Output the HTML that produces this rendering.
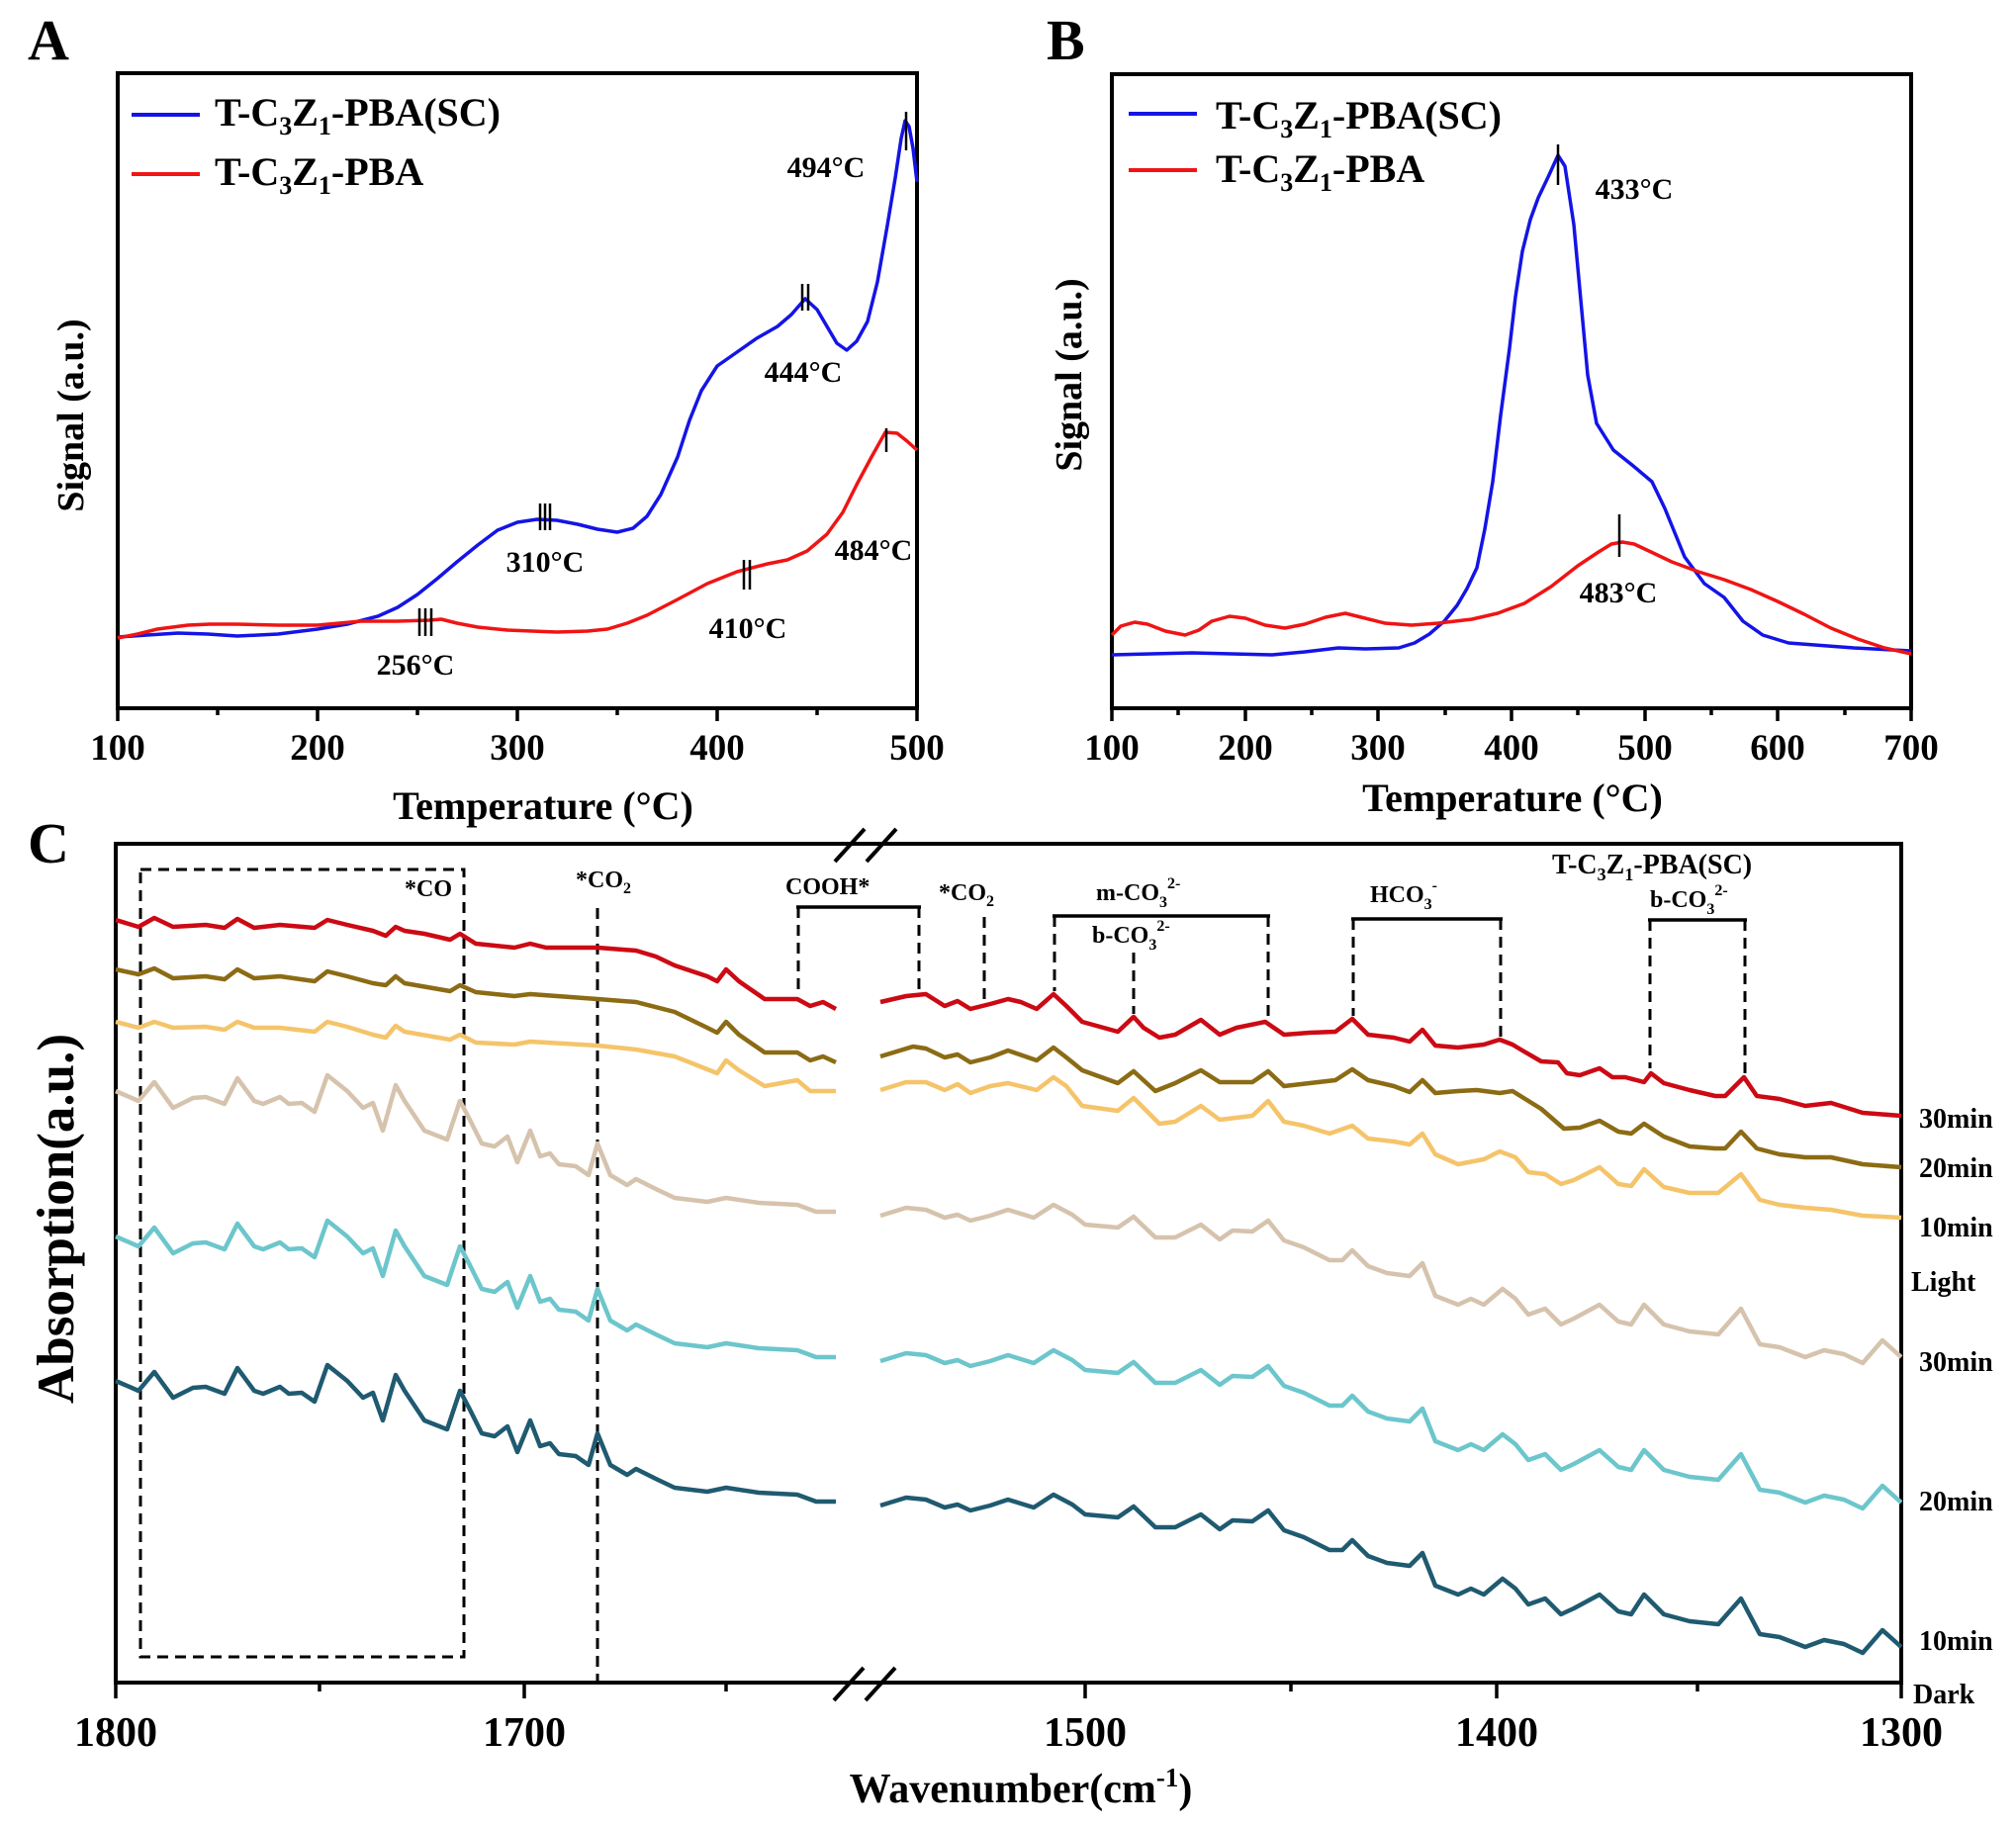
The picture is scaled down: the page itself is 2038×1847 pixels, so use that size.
<!DOCTYPE html>
<html>
<head>
<meta charset="utf-8">
<style>
html,body{margin:0;padding:0;background:#fff}
svg{display:block}
text{font-family:"Liberation Serif","DejaVu Serif",serif;font-weight:bold;fill:#000}
</style>
</head>
<body>
<svg width="2038" height="1847" viewBox="0 0 2038 1847" xmlns="http://www.w3.org/2000/svg">
<rect x="0" y="0" width="2038" height="1847" fill="#fff"/>

<!-- ================= PANEL A ================= -->
<text x="28" y="60" font-size="58">A</text>
<rect x="119" y="74" width="808" height="642" fill="none" stroke="#000" stroke-width="4"/>
<g stroke="#000" stroke-width="3.5">
<line x1="119" y1="716" x2="119" y2="729"/><line x1="321" y1="716" x2="321" y2="729"/><line x1="523" y1="716" x2="523" y2="729"/><line x1="725" y1="716" x2="725" y2="729"/><line x1="927" y1="716" x2="927" y2="729"/>
<line x1="220" y1="716" x2="220" y2="723"/><line x1="422" y1="716" x2="422" y2="723"/><line x1="624" y1="716" x2="624" y2="723"/><line x1="826" y1="716" x2="826" y2="723"/>
</g>
<g font-size="37" text-anchor="middle">
<text x="119" y="768">100</text><text x="321" y="768">200</text><text x="523" y="768">300</text><text x="725" y="768">400</text><text x="927" y="768">500</text>
</g>
<text x="549" y="828" font-size="40" text-anchor="middle">Temperature (°C)</text>
<text transform="translate(84,420) rotate(-90)" font-size="38" text-anchor="middle">Signal (a.u.)</text>

<line x1="133" y1="116" x2="202" y2="116" stroke="#1414e6" stroke-width="4"/>
<text x="217" y="127" font-size="40">T-C<tspan font-size="26" dy="9">3</tspan><tspan dy="-9">Z</tspan><tspan font-size="26" dy="9">1</tspan><tspan dy="-9">-PBA(SC)</tspan></text>
<line x1="133" y1="176" x2="202" y2="176" stroke="#f01414" stroke-width="4"/>
<text x="217" y="187" font-size="40">T-C<tspan font-size="26" dy="9">3</tspan><tspan dy="-9">Z</tspan><tspan font-size="26" dy="9">1</tspan><tspan dy="-9">-PBA</tspan></text>

<polyline fill="none" stroke="#1414e6" stroke-width="3.5" stroke-linejoin="round" points="119,644 149,642 180,640 210,641 240,643 281,641 321,636 351,631 382,623 402,614 422,601 442,585 462,568 483,551 503,536 523,528 543,525 563,526 584,530 604,535 624,538 640,534 654,522 668,500 685,462 697,425 709,395 725,370 745,356 765,342 786,330 800,318 814,302 826,313 836,330 846,347 856,354 866,345 877,325 887,285 897,228 905,180 911,140 915,122 919,128 923,150 927,184"/>
<polyline fill="none" stroke="#f01414" stroke-width="3.5" stroke-linejoin="round" points="119,645 139,641 159,636 190,632 212,631 240,631 281,632 321,632 365,628 402,628 434,627 446,626 462,630 483,634 513,637 563,639 594,638 614,636 634,630 654,622 685,606 715,590 745,578 776,570 796,566 816,557 836,540 852,518 866,490 881,462 895,437 907,438 917,446 927,455"/>

<g stroke="#000" stroke-width="2.5">
<line x1="916" y1="113" x2="916" y2="152"/>
<line x1="811" y1="287" x2="811" y2="314"/><line x1="817" y1="287" x2="817" y2="314"/>
<line x1="546" y1="509" x2="546" y2="536"/><line x1="551" y1="509" x2="551" y2="536"/><line x1="556" y1="509" x2="556" y2="536"/>
<line x1="424" y1="615" x2="424" y2="643"/><line x1="430" y1="615" x2="430" y2="643"/><line x1="436" y1="615" x2="436" y2="643"/>
<line x1="752" y1="566" x2="752" y2="596"/><line x1="758" y1="566" x2="758" y2="596"/>
<line x1="896" y1="433" x2="896" y2="457"/>
</g>
<g font-size="30" text-anchor="middle">
<text x="835" y="179">494°C</text>
<text x="812" y="386">444°C</text>
<text x="551" y="578">310°C</text>
<text x="883" y="566">484°C</text>
<text x="756" y="645">410°C</text>
<text x="420" y="682">256°C</text>
</g>

<!-- ================= PANEL B ================= -->
<text x="1058" y="60" font-size="58">B</text>
<rect x="1124" y="75" width="808" height="641" fill="none" stroke="#000" stroke-width="4"/>
<g stroke="#000" stroke-width="3.5">
<line x1="1124" y1="716" x2="1124" y2="729"/><line x1="1259" y1="716" x2="1259" y2="729"/><line x1="1393" y1="716" x2="1393" y2="729"/><line x1="1528" y1="716" x2="1528" y2="729"/><line x1="1663" y1="716" x2="1663" y2="729"/><line x1="1797" y1="716" x2="1797" y2="729"/><line x1="1932" y1="716" x2="1932" y2="729"/>
<line x1="1191" y1="716" x2="1191" y2="723"/><line x1="1326" y1="716" x2="1326" y2="723"/><line x1="1461" y1="716" x2="1461" y2="723"/><line x1="1595" y1="716" x2="1595" y2="723"/><line x1="1730" y1="716" x2="1730" y2="723"/><line x1="1865" y1="716" x2="1865" y2="723"/>
</g>
<g font-size="37" text-anchor="middle">
<text x="1124" y="768">100</text><text x="1259" y="768">200</text><text x="1393" y="768">300</text><text x="1528" y="768">400</text><text x="1663" y="768">500</text><text x="1797" y="768">600</text><text x="1932" y="768">700</text>
</g>
<text x="1529" y="820" font-size="40" text-anchor="middle">Temperature (°C)</text>
<text transform="translate(1093,379) rotate(-90)" font-size="38" text-anchor="middle">Signal (a.u.)</text>

<line x1="1141" y1="115" x2="1210" y2="115" stroke="#1414e6" stroke-width="4"/>
<text x="1229" y="130" font-size="40">T-C<tspan font-size="26" dy="9">3</tspan><tspan dy="-9">Z</tspan><tspan font-size="26" dy="9">1</tspan><tspan dy="-9">-PBA(SC)</tspan></text>
<line x1="1141" y1="172" x2="1210" y2="172" stroke="#f01414" stroke-width="4"/>
<text x="1229" y="184" font-size="40">T-C<tspan font-size="26" dy="9">3</tspan><tspan dy="-9">Z</tspan><tspan font-size="26" dy="9">1</tspan><tspan dy="-9">-PBA</tspan></text>

<polyline fill="none" stroke="#1414e6" stroke-width="3.5" stroke-linejoin="round" points="1124,662 1164,661 1205,660 1245,661 1286,662 1319,659 1353,655 1380,656 1414,655 1430,650 1445,641 1460,628 1473,612 1483,595 1493,574 1501,535 1509,487 1517,420 1526,352 1532,300 1539,254 1547,222 1555,200 1565,179 1575,157 1582,168 1591,227 1598,303 1605,379 1614,428 1631,455 1651,471 1670,487 1683,514 1703,563 1723,590 1743,604 1762,628 1782,642 1808,650 1874,655 1932,658"/>
<polyline fill="none" stroke="#f01414" stroke-width="3.5" stroke-linejoin="round" points="1124,642 1133,633 1147,629 1160,631 1178,638 1198,642 1212,637 1225,628 1243,623 1259,625 1279,632 1299,635 1319,631 1340,624 1360,620 1380,625 1400,630 1427,632 1454,630 1488,626 1514,620 1541,610 1568,593 1595,572 1616,558 1629,550 1640,548 1652,550 1669,558 1690,568 1717,578 1743,586 1770,596 1797,608 1824,621 1851,635 1878,646 1905,655 1932,661"/>

<g stroke="#000" stroke-width="2.5">
<line x1="1575" y1="146" x2="1575" y2="187"/>
<line x1="1637" y1="520" x2="1637" y2="563"/>
</g>
<g font-size="30" text-anchor="middle">
<text x="1652" y="201">433°C</text>
<text x="1636" y="609">483°C</text>
</g>

<!-- ================= PANEL C ================= -->
<text x="28" y="872" font-size="58">C</text>
<rect x="117" y="853" width="1805" height="848" fill="none" stroke="#000" stroke-width="4"/>
<g stroke="#000" stroke-width="3.5">
<line x1="117" y1="1701" x2="117" y2="1717"/><line x1="530" y1="1701" x2="530" y2="1717"/><line x1="1097" y1="1701" x2="1097" y2="1717"/><line x1="1513" y1="1701" x2="1513" y2="1717"/><line x1="1922" y1="1701" x2="1922" y2="1717"/>
<line x1="323" y1="1701" x2="323" y2="1710"/><line x1="734" y1="1701" x2="734" y2="1710"/><line x1="1305" y1="1701" x2="1305" y2="1710"/><line x1="1716" y1="1701" x2="1716" y2="1710"/>
</g>
<!-- break marks -->
<g stroke="#000" stroke-width="4">
<line x1="844" y1="871" x2="874" y2="838"/><line x1="876" y1="871" x2="906" y2="838"/>
<line x1="843" y1="1719" x2="873" y2="1686"/><line x1="875" y1="1719" x2="905" y2="1686"/>
</g>
<g font-size="42" text-anchor="middle">
<text x="117" y="1765">1800</text><text x="530" y="1765">1700</text><text x="1097" y="1765">1500</text><text x="1513" y="1765">1400</text><text x="1922" y="1765">1300</text>
</g>
<text x="1032" y="1822" font-size="42" text-anchor="middle">Wavenumber(cm<tspan font-size="27" dy="-16">-1</tspan><tspan dy="16">)</tspan></text>
<text transform="translate(74,1232) rotate(-90)" font-size="53" text-anchor="middle">Absorption(a.u.)</text>

<!-- dashed annotation lines -->
<g fill="none" stroke="#000" stroke-width="3" stroke-dasharray="11,7">
<rect x="142" y="879" width="327" height="796"/>
<line x1="604" y1="918" x2="604" y2="1701"/>
<line x1="807" y1="917" x2="807" y2="1003"/><line x1="929" y1="917" x2="929" y2="1001"/>
<line x1="995" y1="927" x2="995" y2="1010"/>
<line x1="1066" y1="926" x2="1066" y2="1002"/><line x1="1282" y1="926" x2="1282" y2="1027"/>
<line x1="1146" y1="963" x2="1146" y2="1025"/>
<line x1="1368" y1="929" x2="1368" y2="1027"/><line x1="1517" y1="929" x2="1517" y2="1050"/>
<line x1="1668" y1="930" x2="1668" y2="1080"/><line x1="1764" y1="930" x2="1764" y2="1087"/>
</g>
<g stroke="#000" stroke-width="3.5">
<line x1="805" y1="917" x2="931" y2="917"/>
<line x1="1064" y1="926" x2="1284" y2="926"/>
<line x1="1366" y1="929" x2="1519" y2="929"/>
<line x1="1666" y1="930" x2="1766" y2="930"/>
</g>
<g font-size="24">
<text x="409" y="906">*CO</text>
<text x="582" y="897">*CO<tspan font-size="16" dy="6">2</tspan></text>
<text x="794" y="904">COOH*</text>
<text x="949" y="910">*CO<tspan font-size="16" dy="6">2</tspan></text>
<text x="1108" y="910">m-CO<tspan font-size="16" dy="7">3</tspan><tspan font-size="16" dy="-19">2-</tspan></text>
<text x="1104" y="953">b-CO<tspan font-size="16" dy="7">3</tspan><tspan font-size="16" dy="-19">2-</tspan></text>
<text x="1385" y="912">HCO<tspan font-size="16" dy="7">3</tspan><tspan font-size="16" dy="-19">-</tspan></text>
<text x="1668" y="917">b-CO<tspan font-size="16" dy="7">3</tspan><tspan font-size="16" dy="-19">2-</tspan></text>
</g>
<text x="1569" y="883" font-size="28">T-C<tspan font-size="18" dy="7">3</tspan><tspan dy="-7">Z</tspan><tspan font-size="18" dy="7">1</tspan><tspan dy="-7">-PBA(SC)</tspan></text>

<g font-size="28">
<text x="1940" y="1140">30min</text>
<text x="1940" y="1190">20min</text>
<text x="1940" y="1250">10min</text>
<text x="1932" y="1305">Light</text>
<text x="1940" y="1386">30min</text>
<text x="1940" y="1527">20min</text>
<text x="1940" y="1668">10min</text>
<text x="1934" y="1722">Dark</text>
</g>

<defs>
<polyline id="tl" fill="none" stroke-width="4.5" stroke-linejoin="round" points="117,1396 140,1406 156,1387 175,1413 195,1403 208,1402 227,1409 240,1383 257,1406 266,1409 283,1402 292,1409 305,1408 318,1417 331,1380 351,1396 367,1413 377,1408 387,1436 400,1390 409,1406 429,1436 452,1445 465,1406 474,1423 487,1449 500,1452 513,1442 523,1468 536,1436 546,1462 556,1459 565,1470 582,1472 595,1481 604,1449 617,1481 634,1491 643,1485 663,1495 682,1504 715,1508 734,1504 767,1509 806,1511 825,1518 845,1518"/>
<polyline id="tr" fill="none" stroke-width="4.5" stroke-linejoin="round" points="890,1522 916,1514 936,1516 955,1524 968,1521 981,1527 1001,1522 1019,1516 1045,1524 1065,1511 1084,1521 1097,1531 1130,1534 1146,1523 1168,1544 1188,1544 1214,1531 1233,1546 1246,1537 1266,1538 1282,1527 1298,1547 1318,1554 1344,1567 1357,1567 1367,1557 1383,1573 1402,1580 1425,1583 1438,1570 1451,1603 1474,1612 1487,1606 1500,1612 1519,1596 1532,1606 1545,1622 1562,1616 1578,1632 1591,1626 1617,1612 1636,1629 1649,1632 1662,1612 1682,1632 1708,1639 1737,1642 1760,1616 1779,1652 1799,1655 1825,1665 1844,1658 1864,1662 1883,1671 1903,1648 1922,1665"/>
</defs>

<!-- lower three (dark) -->
<use href="#tl" stroke="#1f5a70"/>
<use href="#tr" stroke="#1f5a70"/>
<use href="#tl" stroke="#6cc6cc" transform="translate(0,-146)"/>
<use href="#tr" stroke="#6cc6cc" transform="translate(0,-146)"/>
<use href="#tl" stroke="#d6c3ad" transform="translate(0,-293)"/>
<use href="#tr" stroke="#d6c3ad" transform="translate(0,-293)"/>

<!-- orange -->
<polyline fill="none" stroke="#f5c46a" stroke-width="4.5" stroke-linejoin="round" points="117,1033 140,1039 156,1033 175,1039 208,1038 227,1041 240,1033 257,1039 283,1039 318,1043 331,1033 351,1038 377,1046 390,1049 400,1037 409,1043 455,1051 465,1046 481,1054 520,1056 536,1053 604,1057 643,1061 682,1068 715,1081 725,1085 734,1072 747,1082 773,1098 806,1092 819,1103 845,1103"/>
<polyline fill="none" stroke="#f5c46a" stroke-width="4.5" stroke-linejoin="round" points="890,1102 916,1094 936,1094 955,1102 968,1096 981,1105 1001,1098 1019,1095 1048,1102 1065,1089 1078,1098 1094,1118 1130,1123 1146,1110 1172,1136 1188,1134 1214,1118 1233,1132 1266,1128 1282,1113 1298,1134 1318,1138 1344,1146 1367,1138 1383,1151 1409,1154 1425,1157 1438,1146 1451,1167 1474,1177 1500,1172 1516,1164 1532,1170 1545,1185 1562,1187 1578,1197 1591,1193 1617,1180 1636,1197 1649,1199 1662,1182 1682,1200 1708,1206 1737,1206 1760,1187 1779,1213 1799,1218 1825,1221 1851,1223 1883,1229 1922,1231"/>
<!-- olive -->
<polyline fill="none" stroke="#8b6b14" stroke-width="4.5" stroke-linejoin="round" points="117,980 140,985 156,979 175,989 208,987 227,990 240,980 257,989 283,987 318,992 331,982 351,987 377,994 390,996 400,987 409,994 455,1002 465,996 481,1003 520,1007 536,1005 604,1010 643,1013 682,1023 715,1039 725,1044 734,1033 747,1046 773,1064 806,1064 819,1072 832,1068 845,1074"/>
<polyline fill="none" stroke="#8b6b14" stroke-width="4.5" stroke-linejoin="round" points="890,1068 923,1058 936,1060 955,1069 968,1066 981,1074 1001,1069 1019,1062 1048,1072 1065,1059 1078,1069 1094,1082 1130,1095 1146,1083 1168,1103 1188,1095 1214,1082 1233,1094 1266,1094 1282,1083 1298,1098 1324,1095 1350,1092 1367,1081 1383,1092 1409,1098 1425,1104 1438,1092 1451,1105 1474,1103 1493,1102 1516,1105 1529,1103 1558,1121 1581,1141 1597,1140 1617,1133 1636,1144 1649,1146 1662,1136 1682,1149 1708,1159 1734,1161 1744,1161 1760,1144 1776,1161 1799,1167 1825,1170 1851,1170 1883,1177 1922,1180"/>
<!-- red -->
<polyline fill="none" stroke="#cc0a14" stroke-width="4.5" stroke-linejoin="round" points="117,930 140,937 156,928 175,937 208,935 227,938 240,929 257,938 283,935 318,938 331,930 351,935 377,941 390,946 400,937 409,941 429,944 455,950 465,944 481,954 520,958 536,954 552,958 604,958 643,961 663,967 682,976 715,987 725,992 734,980 747,992 773,1010 806,1010 819,1017 832,1013 845,1020"/>
<polyline fill="none" stroke="#cc0a14" stroke-width="4.5" stroke-linejoin="round" points="890,1013 916,1007 936,1005 955,1017 968,1012 981,1020 1001,1015 1019,1010 1032,1013 1048,1020 1065,1005 1078,1017 1094,1033 1130,1043 1146,1028 1156,1039 1172,1049 1188,1046 1214,1031 1233,1046 1250,1039 1279,1033 1298,1046 1324,1044 1350,1043 1367,1030 1383,1046 1409,1049 1425,1053 1438,1041 1451,1057 1474,1059 1500,1056 1516,1051 1529,1056 1539,1062 1558,1073 1575,1074 1584,1085 1597,1087 1617,1080 1630,1089 1643,1089 1662,1094 1669,1085 1682,1095 1708,1102 1734,1108 1744,1108 1763,1089 1776,1108 1799,1111 1825,1118 1851,1115 1883,1125 1922,1128"/>
</svg>
</body>
</html>
